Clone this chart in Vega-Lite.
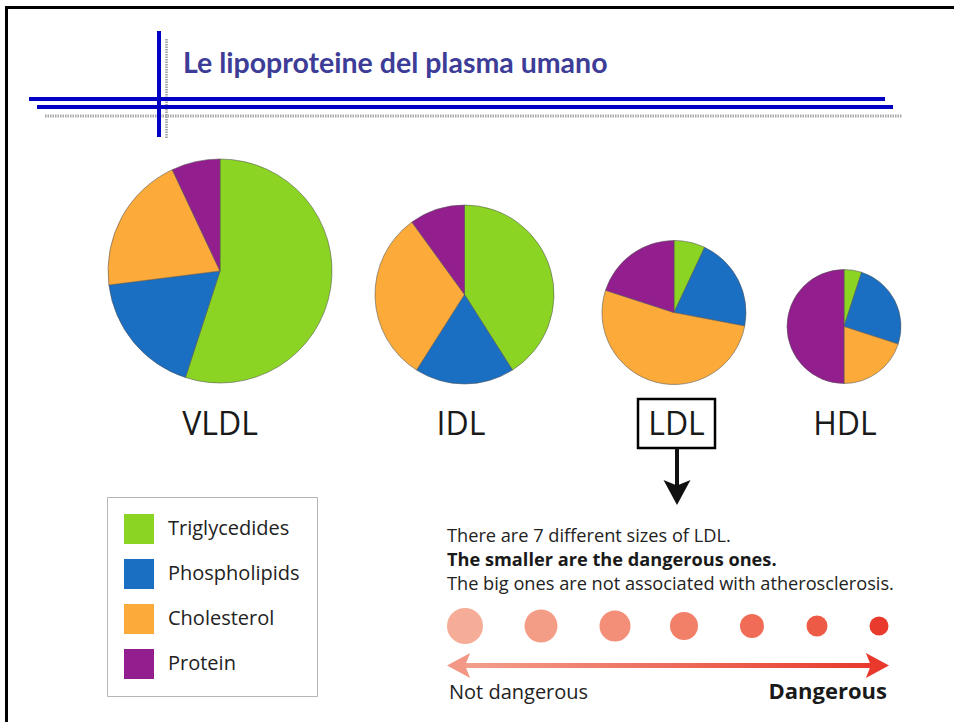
{
  "$schema": "https://vega.github.io/schema/vega-lite/v6.json",
  "width": 954,
  "height": 722,
  "padding": 0,
  "autosize": "none",
  "background": "white",
  "config": {
    "view": {"stroke": null},
    "axis": {"disable": true},
    "text": {"font": "Open Sans", "color": "#222222"},
    "legend": {
      "symbolType": "square",
      "symbolSize": 900,
      "symbolStrokeWidth": 0,
      "symbolOpacity": 1,
      "labelFont": "Open Sans",
      "labelFontSize": 20,
      "labelColor": "#222222",
      "labelOffset": 14,
      "rowPadding": 15,
      "padding": 17,
      "strokeColor": "#b5b5b5"
    }
  },
  "datasets": {
    "components": [
      {"component": "Triglycedides", "legend_order": 1},
      {"component": "Phospholipids", "legend_order": 2},
      {"component": "Cholesterol", "legend_order": 3},
      {"component": "Protein", "legend_order": 4}
    ],
    "lipo": [
      {"lipoprotein": "VLDL", "component": "Triglycedides", "percent": 55},
      {"lipoprotein": "VLDL", "component": "Phospholipids", "percent": 18},
      {"lipoprotein": "VLDL", "component": "Cholesterol", "percent": 20},
      {"lipoprotein": "VLDL", "component": "Protein", "percent": 7},
      {"lipoprotein": "IDL", "component": "Triglycedides", "percent": 41},
      {"lipoprotein": "IDL", "component": "Phospholipids", "percent": 18},
      {"lipoprotein": "IDL", "component": "Cholesterol", "percent": 31},
      {"lipoprotein": "IDL", "component": "Protein", "percent": 10},
      {"lipoprotein": "LDL", "component": "Triglycedides", "percent": 7},
      {"lipoprotein": "LDL", "component": "Phospholipids", "percent": 21},
      {"lipoprotein": "LDL", "component": "Cholesterol", "percent": 52},
      {"lipoprotein": "LDL", "component": "Protein", "percent": 20},
      {"lipoprotein": "HDL", "component": "Triglycedides", "percent": 5},
      {"lipoprotein": "HDL", "component": "Phospholipids", "percent": 25},
      {"lipoprotein": "HDL", "component": "Cholesterol", "percent": 20},
      {"lipoprotein": "HDL", "component": "Protein", "percent": 50}
    ],
    "ldl": [
      {"subclass": "I", "rank": 1, "relative_size": 36},
      {"subclass": "IIa", "rank": 2, "relative_size": 33},
      {"subclass": "IIb", "rank": 3, "relative_size": 31},
      {"subclass": "IIIa", "rank": 4, "relative_size": 28},
      {"subclass": "IIIb", "rank": 5, "relative_size": 24},
      {"subclass": "IVa", "rank": 6, "relative_size": 21},
      {"subclass": "IVb", "rank": 7, "relative_size": 19}
    ]
  },
  "layer": [
    {
      "layer": [
        {
          "data": {"values": [{}]},
          "mark": {"type": "rule", "color": "black", "strokeWidth": 3},
          "encoding": {
            "x": {"datum": 6.5, "type": "quantitative", "scale": {"domain": [0, 954], "nice": false, "zero": false}},
            "y": {"datum": 7, "type": "quantitative", "scale": {"domain": [0, 722], "reverse": true, "nice": false, "zero": false}},
            "y2": {"datum": 722}
          }
        },
        {
          "data": {"values": [{}]},
          "mark": {"type": "rule", "color": "black", "strokeWidth": 3},
          "encoding": {"x": {"datum": 5}, "x2": {"datum": 954}, "y": {"datum": 7.5}}
        },
        {
          "data": {"values": [{}]},
          "mark": {"type": "rule", "color": "#a0a0a0", "strokeWidth": 2.5, "strokeDash": [1.5, 1]},
          "encoding": {"x": {"datum": 166.5}, "y": {"datum": 39}, "y2": {"datum": 138}}
        },
        {
          "data": {"values": [{}]},
          "mark": {"type": "rule", "color": "#a8a8a8", "strokeWidth": 3, "strokeDash": [1.5, 1]},
          "encoding": {"x": {"datum": 45}, "x2": {"datum": 902}, "y": {"datum": 116}}
        },
        {
          "data": {"values": [{}]},
          "mark": {"type": "rule", "color": "#0000c4", "strokeWidth": 4},
          "encoding": {"x": {"datum": 29}, "x2": {"datum": 885}, "y": {"datum": 99}}
        },
        {
          "data": {"values": [{}]},
          "mark": {"type": "rule", "color": "#0000c4", "strokeWidth": 4},
          "encoding": {"x": {"datum": 37}, "x2": {"datum": 893}, "y": {"datum": 107}}
        },
        {
          "data": {"values": [{}]},
          "mark": {"type": "rule", "color": "#0000c4", "strokeWidth": 4},
          "encoding": {"x": {"datum": 159}, "y": {"datum": 31}, "y2": {"datum": 137}}
        },
        {
          "data": {"values": [{"title": "Le lipoproteine del plasma umano"}]},
          "mark": {"type": "text", "font": "Lato", "fontWeight": "bold", "fontSize": 28.5, "align": "left", "baseline": "alphabetic", "color": "#3d3d98"},
          "encoding": {"x": {"datum": 183}, "y": {"datum": 73}, "text": {"field": "title"}}
        },
        {
          "data": {"name": "lipo"},
          "transform": [
            {"filter": "datum.lipoprotein === 'VLDL'"},
            {"lookup": "component", "from": {"data": {"name": "components"}, "key": "component", "fields": ["legend_order"]}}
          ],
          "mark": {"type": "arc", "outerRadius": 112, "stroke": "#555555", "strokeWidth": 0.8, "strokeOpacity": 0.7},
          "encoding": {
            "x": {"datum": 220},
            "y": {"datum": 271},
            "theta": {"field": "percent", "type": "quantitative", "stack": true},
            "order": {"field": "legend_order", "type": "quantitative"},
            "color": {
              "field": "component",
              "type": "nominal",
              "scale": {"domain": ["Triglycedides", "Phospholipids", "Cholesterol", "Protein"], "range": ["#8cd424", "#1a6fc2", "#fcaa3a", "#931e8e"]},
              "legend": {"title": null, "orient": "none", "legendX": 107, "legendY": 497}
            }
          }
        },
        {
          "data": {"name": "lipo"},
          "transform": [
            {"filter": "datum.lipoprotein === 'IDL'"},
            {"lookup": "component", "from": {"data": {"name": "components"}, "key": "component", "fields": ["legend_order"]}}
          ],
          "mark": {"type": "arc", "outerRadius": 89.5, "stroke": "#555555", "strokeWidth": 0.8, "strokeOpacity": 0.7},
          "encoding": {
            "x": {"datum": 464.5},
            "y": {"datum": 294.5},
            "theta": {"field": "percent", "type": "quantitative", "stack": true},
            "order": {"field": "legend_order", "type": "quantitative"},
            "color": {"field": "component", "type": "nominal"}
          }
        },
        {
          "data": {"name": "lipo"},
          "transform": [
            {"filter": "datum.lipoprotein === 'LDL'"},
            {"lookup": "component", "from": {"data": {"name": "components"}, "key": "component", "fields": ["legend_order"]}}
          ],
          "mark": {"type": "arc", "outerRadius": 72, "stroke": "#555555", "strokeWidth": 0.8, "strokeOpacity": 0.7},
          "encoding": {
            "x": {"datum": 674},
            "y": {"datum": 312.5},
            "theta": {"field": "percent", "type": "quantitative", "stack": true},
            "order": {"field": "legend_order", "type": "quantitative"},
            "color": {"field": "component", "type": "nominal"}
          }
        },
        {
          "data": {"name": "lipo"},
          "transform": [
            {"filter": "datum.lipoprotein === 'HDL'"},
            {"lookup": "component", "from": {"data": {"name": "components"}, "key": "component", "fields": ["legend_order"]}}
          ],
          "mark": {"type": "arc", "outerRadius": 57, "stroke": "#555555", "strokeWidth": 0.8, "strokeOpacity": 0.7},
          "encoding": {
            "x": {"datum": 844},
            "y": {"datum": 326.5},
            "theta": {"field": "percent", "type": "quantitative", "stack": true},
            "order": {"field": "legend_order", "type": "quantitative"},
            "color": {"field": "component", "type": "nominal"}
          }
        },
        {
          "data": {"values": [{"name": "VLDL"}]},
          "mark": {"type": "text", "fontSize": 32, "align": "center", "baseline": "alphabetic", "color": "#1a1a1a"},
          "encoding": {"x": {"datum": 220}, "y": {"datum": 435}, "text": {"field": "name"}}
        },
        {
          "data": {"values": [{"name": "IDL"}]},
          "mark": {"type": "text", "fontSize": 32, "align": "center", "baseline": "alphabetic", "color": "#1a1a1a"},
          "encoding": {"x": {"datum": 461}, "y": {"datum": 435}, "text": {"field": "name"}}
        },
        {
          "data": {"values": [{"name": "LDL"}]},
          "mark": {"type": "text", "fontSize": 32, "align": "center", "baseline": "alphabetic", "color": "#1a1a1a"},
          "encoding": {"x": {"datum": 676.5}, "y": {"datum": 435}, "text": {"field": "name"}}
        },
        {
          "data": {"values": [{"name": "HDL"}]},
          "mark": {"type": "text", "fontSize": 32, "align": "center", "baseline": "alphabetic", "color": "#1a1a1a"},
          "encoding": {"x": {"datum": 845}, "y": {"datum": 435}, "text": {"field": "name"}}
        },
        {
          "data": {"values": [{}]},
          "mark": {"type": "rect", "fillOpacity": 0, "stroke": "black", "strokeWidth": 2.5},
          "encoding": {"x": {"datum": 638}, "x2": {"datum": 715}, "y": {"datum": 399}, "y2": {"datum": 448}}
        },
        {
          "data": {"values": [{}]},
          "mark": {"type": "rule", "color": "#111111", "strokeWidth": 4},
          "encoding": {"x": {"datum": 677}, "y": {"datum": 448}, "y2": {"datum": 487}}
        },
        {
          "data": {"values": [{}]},
          "mark": {"type": "point", "shape": "M0,1L-1,-0.85L0,-0.45L1,-0.85Z", "size": 729, "filled": true, "color": "#111111", "opacity": 1},
          "encoding": {"x": {"datum": 677}, "y": {"datum": 491.5}}
        },
        {
          "data": {"values": [{"line": "There are 7 different sizes of LDL."}]},
          "mark": {"type": "text", "fontSize": 18.2, "align": "left", "baseline": "alphabetic", "color": "#222222"},
          "encoding": {"x": {"datum": 447}, "y": {"datum": 542}, "text": {"field": "line"}}
        },
        {
          "data": {"values": [{"line": "The smaller are the dangerous ones."}]},
          "mark": {"type": "text", "fontSize": 18.2, "fontWeight": "bold", "align": "left", "baseline": "alphabetic", "color": "#1a1a1a"},
          "encoding": {"x": {"datum": 447}, "y": {"datum": 566}, "text": {"field": "line"}}
        },
        {
          "data": {"values": [{"line": "The big ones are not associated with atherosclerosis."}]},
          "mark": {"type": "text", "fontSize": 18.2, "align": "left", "baseline": "alphabetic", "color": "#222222"},
          "encoding": {"x": {"datum": 447}, "y": {"datum": 590}, "text": {"field": "line"}}
        },
        {
          "data": {"values": [{}]},
          "mark": {
            "type": "rect",
            "fill": {"gradient": "linear", "x1": 0, "y1": 0, "x2": 1, "y2": 0, "stops": [{"offset": 0, "color": "#f3a08b"}, {"offset": 1, "color": "#e8392c"}]}
          },
          "encoding": {"x": {"datum": 462}, "x2": {"datum": 874}, "y": {"datum": 663}, "y2": {"datum": 668}}
        },
        {
          "data": {"values": [{}]},
          "mark": {"type": "point", "shape": "M-1,0L0.85,-1L0.45,0L0.85,1Z", "size": 625, "filled": true, "color": "#f29884", "opacity": 1},
          "encoding": {"x": {"datum": 459.5}, "y": {"datum": 665.5}}
        },
        {
          "data": {"values": [{}]},
          "mark": {"type": "point", "shape": "M1,0L-0.85,-1L-0.45,0L-0.85,1Z", "size": 625, "filled": true, "color": "#e8392c", "opacity": 1},
          "encoding": {"x": {"datum": 876.5}, "y": {"datum": 665.5}}
        },
        {
          "data": {"values": [{"label": "Not dangerous"}]},
          "mark": {"type": "text", "fontSize": 20, "align": "left", "baseline": "alphabetic", "color": "#222222"},
          "encoding": {"x": {"datum": 449}, "y": {"datum": 699}, "text": {"field": "label"}}
        },
        {
          "data": {"values": [{"label": "Dangerous"}]},
          "mark": {"type": "text", "fontSize": 22, "fontWeight": "bold", "align": "right", "baseline": "alphabetic", "color": "#1a1a1a"},
          "encoding": {"x": {"datum": 887}, "y": {"datum": 699}, "text": {"field": "label"}}
        }
      ]
    },
    {
      "data": {"name": "ldl"},
      "mark": {"type": "circle", "opacity": 1},
      "encoding": {
        "x": {"field": "rank", "type": "quantitative", "scale": {"domain": [1, 2, 3, 4, 5, 6, 7], "range": [465, 541, 615, 684, 752, 817, 879], "nice": false, "zero": false}},
        "y": {"datum": 626, "type": "quantitative", "scale": {"domain": [0, 722], "reverse": true, "nice": false, "zero": false}},
        "size": {"field": "relative_size", "type": "quantitative", "scale": {"type": "pow", "exponent": 2, "domain": [0, 36], "range": [0, 1296]}, "legend": null},
        "fill": {"field": "subclass", "type": "nominal", "sort": null, "scale": {"domain": ["I", "IIa", "IIb", "IIIa", "IIIb", "IVa", "IVb"], "range": ["#f5ad97", "#f49d86", "#f38f78", "#f27f68", "#f06c56", "#ed5a45", "#e93a2e"]}, "legend": null}
      }
    }
  ],
  "resolve": {"scale": {"x": "independent", "y": "independent"}}
}
